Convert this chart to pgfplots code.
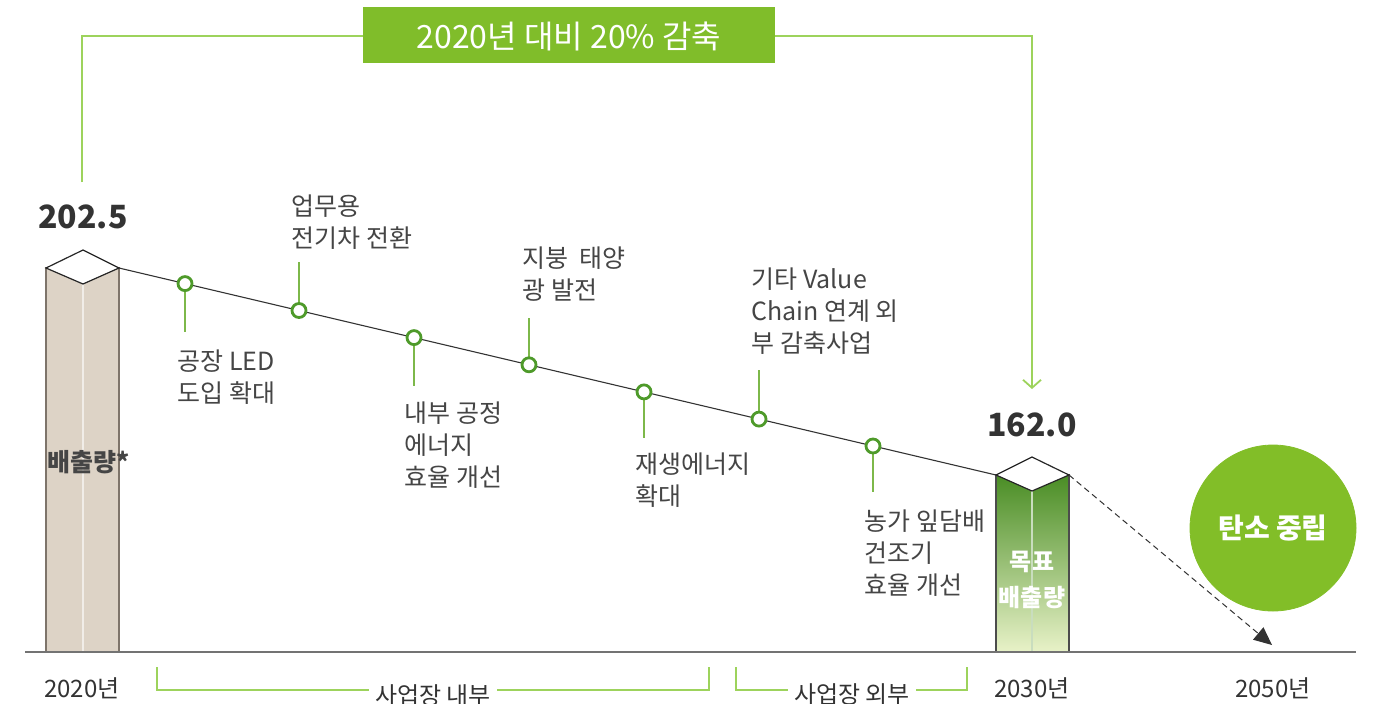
\documentclass[border=0pt]{standalone}
\usepackage{fontspec}
\setmainfont{Noto Sans CJK KR}
\usepackage{pgfplots}
\pgfplotsset{compat=1.18}
\usetikzlibrary{arrows.meta}
\definecolor{beige}{HTML}{DDD3C6}
\definecolor{beigeEdge}{HTML}{7E746A}
\definecolor{gTop}{HTML}{4A8D25}
\definecolor{gMid}{HTML}{7DAF4E}
\definecolor{gBot}{HTML}{E8F2C8}
\definecolor{cGreen}{HTML}{4E9A2A}
\definecolor{leadGreen}{HTML}{7DB84A}
\definecolor{brGreen}{HTML}{9DD35C}
\definecolor{boxGreen}{HTML}{80BD2A}
\definecolor{bigGreen}{HTML}{82BE28}
\definecolor{txt}{HTML}{454545}
\definecolor{dark}{HTML}{333333}
\begin{document}
\begin{tikzpicture}
\path[use as bounding box, clip] (0,0) rectangle (687pt,351.5pt);
\begin{axis}[at={(0,0)}, anchor=south west, width=687pt, height=351.5pt,
  scale only axis, xmin=0, xmax=1374, ymin=0, ymax=703, y dir=reverse,
  hide axis, clip=false]
% top bracket
\addplot[brGreen, line width=0.9pt, -{Straight Barb[length=4pt,width=9pt]}] coordinates {(82,182)(82,36)(1032,36)(1032,389)};
\addplot[fill=boxGreen, draw=none] coordinates {(363,7)(775,7)(775,63)(363,63)} --cycle;
\node[white, font=\fontsize{16}{16}\selectfont] at (axis cs:569,36) {2020년 대비 20\% 감축};
% bar 2020
\addplot[fill=beige, draw=beigeEdge, line width=0.6pt] coordinates {(46,652)(46,268)(119,268)(119,652)} --cycle;
\addplot[draw=white!60!beige, line width=0.8pt] coordinates {(83,284)(83,652)};
\addplot[fill=white, draw=black!85, line width=0.6pt] coordinates {(46,268)(83,250)(119,268)(83,284)} --cycle;
% bar 2030
\addplot[top color=gTop, middle color=gMid, bottom color=gBot, draw=black!70, line width=0.6pt] coordinates {(996,652)(996,475)(1069,475)(1069,652)} --cycle;
\addplot[draw=white!70!gTop, line width=0.8pt] coordinates {(1032,491)(1032,652)};
\addplot[fill=white, draw=black!85, line width=0.6pt] coordinates {(996,475)(1032,457)(1069,475)(1032,491)} --cycle;
% main line
\addplot[black!80, line width=0.55pt] coordinates {(119,268)(996,475)};
% dashed arrow
\addplot[black!80, dash pattern=on 3pt off 2pt, line width=0.5pt, -{Triangle[length=9pt,width=8pt]}] coordinates {(1069,475)(1272,645)};
% leaders
\addplot[leadGreen, line width=0.8pt] coordinates {(185,292)(185,332)};
\addplot[leadGreen, line width=0.8pt] coordinates {(299,262)(299,302)};
\addplot[leadGreen, line width=0.8pt] coordinates {(414,346)(414,386)};
\addplot[leadGreen, line width=0.8pt] coordinates {(529,318)(529,357)};
\addplot[leadGreen, line width=0.8pt] coordinates {(644,400)(644,438)};
\addplot[leadGreen, line width=0.8pt] coordinates {(759,370)(759,411)};
\addplot[leadGreen, line width=0.8pt] coordinates {(873,454)(873,492)};
% milestone circles
\addplot[only marks, mark=*, mark size=3.5pt, mark options={fill=white, draw=cGreen, line width=1.4pt}] coordinates {(185,283.6)(299,310.5)(414,337.6)(529,364.8)(644,391.9)(759,419.1)(873,446.0)};
% baseline
\addplot[black!55, line width=0.8pt] coordinates {(25,652)(1356,652)};
% big circle
\addplot[only marks, mark=*, mark size=41.5pt, mark options={fill=bigGreen, draw=bigGreen}] coordinates {(1273,528)};
\addplot[draw=none, mark=none, nodes near coords={탄소 중립},
  every node near coord/.style={anchor=center, text=white, font=\fontsize{14}{14}\selectfont\bfseries}] coordinates {(1273,528)};
% bottom brackets
\addplot[brGreen, line width=0.8pt] coordinates {(157,667)(157,690)(709,690)(709,667)};
\addplot[brGreen, line width=0.8pt] coordinates {(736,667)(736,690)(967,690)(967,667)};
\node[fill=white, inner xsep=3pt, inner ysep=1pt, text=dark, font=\fontsize{12}{12}\selectfont] at (axis cs:433,695) {사업장 내부};
\node[fill=white, inner xsep=3pt, inner ysep=1pt, text=dark, font=\fontsize{12}{12}\selectfont] at (axis cs:852,695) {사업장 외부};
% years
\node[text=dark, font=\fontsize{12}{12}\selectfont] at (axis cs:82,688) {2020년};
\node[text=dark, font=\fontsize{12}{12}\selectfont] at (axis cs:1032,688) {2030년};
\node[text=dark, font=\fontsize{12}{12}\selectfont] at (axis cs:1273,688) {2050년};
% values
\node[text=dark, font=\fontsize{16}{16}\selectfont\bfseries] at (axis cs:83,217) {202.5};
\node[text=dark, font=\fontsize{16}{16}\selectfont\bfseries] at (axis cs:1032,425) {162.0};
\node[text=txt, font=\fontsize{12.5}{12.5}\selectfont\bfseries] at (axis cs:89,462) {배출량*};
\node[white, font=\fontsize{12}{18}\selectfont\bfseries, align=center] at (axis cs:1032,580) {목표\\배출량};
% labels
\tikzset{lab/.style={anchor=north west, inner sep=0pt, align=left, text=txt, font=\fontsize{12.5}{16}\selectfont}}
\node[lab] at (axis cs:177,349) {공장 LED\\도입 확대};
\node[lab] at (axis cs:291,194) {업무용\\전기차 전환};
\node[lab] at (axis cs:404,401) {내부 공정\\에너지\\효율 개선};
\node[lab] at (axis cs:522,246) {지붕~~태양\\광 발전};
\node[lab] at (axis cs:635,452) {재생에너지\\확대};
\node[lab] at (axis cs:751,267) {기타 Value\\Chain 연계 외\\부 감축사업};
\node[lab] at (axis cs:864,509) {농가 잎담배\\건조기\\효율 개선};
\end{axis}
\end{tikzpicture}
\end{document}
